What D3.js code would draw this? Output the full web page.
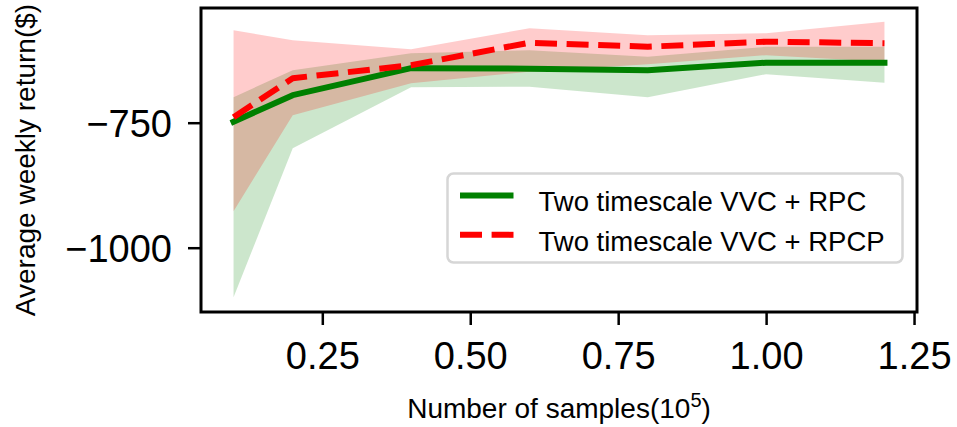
<!DOCTYPE html>
<html>
<head>
<meta charset="utf-8">
<script src="https://cdn.jsdelivr.net/npm/d3@7"></script>
<style>
  body { margin: 0; background: #fff; }
  svg { display: block; font-family: "Liberation Sans", Arial, sans-serif; }
</style>
</head>
<body>
<div id="chart"></div>
<script>
// samples (x 10^5)
var samples = [0.1, 0.2, 0.4, 0.6, 0.8, 1.0, 1.2];

// Two timescale VVC + RPC
var rpcMean = [-748, -695, -641, -642, -645, -630, -630];
var rpcLow  = [-1099, -801, -679, -678, -699, -653, -670];
var rpcHigh = [-699, -645, -611, -605, -618, -598, -598];

// Two timescale VVC + RPCP
var rpcpMean = [-739, -661, -635, -590, -598, -588, -591];
var rpcpLow  = [-927, -735, -671, -648, -633, -615, -628];
var rpcpHigh = [-565, -585, -603, -561, -575, -571, -548];

var xTicks = [0.25, 0.5, 0.75, 1.0, 1.25];
var yTicks = [-1000, -750];
var seriesNames = ['Two timescale VVC + RPC', 'Two timescale VVC + RPCP'];

var width = 957, height = 427;
var plot = {left: 201, right: 917, top: 8, bottom: 312};

var svg = d3.select('#chart').append('svg')
    .attr('width', width)
    .attr('height', height);

var x = d3.scaleLinear().domain([0.045, 1.255]).range([plot.left, plot.right]);
var y = d3.scaleLinear().domain([-1128.6, -520.6]).range([plot.bottom, plot.top]);

var rows = function (mean, low, high) {
    return samples.map(function (s, i) { return {x: s, m: mean[i], lo: low[i], hi: high[i]}; });
};
var series = [
    {name: seriesNames[0], color: 'green', fill: 'rgba(0,128,0,0.2)', dash: null, data: rows(rpcMean, rpcLow, rpcHigh)},
    {name: seriesNames[1], color: 'red', fill: 'rgba(255,0,0,0.2)', dash: '22,9.6', data: rows(rpcpMean, rpcpLow, rpcpHigh)}
];

var area = d3.area()
    .x(function (d) { return x(d.x); })
    .y0(function (d) { return y(d.lo); })
    .y1(function (d) { return y(d.hi); });
var line = d3.line()
    .x(function (d) { return x(d.x); })
    .y(function (d) { return y(d.m); });

// bands first, lines on top
svg.selectAll('path.band')
    .data(series)
    .enter()
    .append('path')
    .classed('band', true)
    .attr('d', function (d) { return area(d.data); })
    .attr('fill', function (d) { return d.fill; });

svg.selectAll('path.line')
    .data(series)
    .enter()
    .append('path')
    .classed('line', true)
    .attr('d', function (d) { return line(d.data); })
    .attr('fill', 'none')
    .attr('stroke', function (d) { return d.color; })
    .attr('stroke-width', 6)
    .attr('stroke-linejoin', 'round')
    .attr('stroke-linecap', function (d) { return d.dash ? 'butt' : 'square'; })
    .attr('stroke-dasharray', function (d) { return d.dash; });

// axes
var xAxis = svg.append('g')
    .attr('transform', 'translate(0,' + plot.bottom + ')')
    .call(d3.axisBottom(x).tickValues(xTicks).tickFormat(d3.format('.2f')).tickSize(13).tickSizeOuter(0));
var yAxis = svg.append('g')
    .attr('transform', 'translate(' + plot.left + ',0)')
    .call(d3.axisLeft(y).tickValues(yTicks).tickFormat(d3.format('d')).tickSize(13).tickSizeOuter(0));

[xAxis, yAxis].forEach(function (g) {
    g.select('.domain').remove();
    g.selectAll('.tick line').attr('stroke', '#000').attr('stroke-width', 2.5);
    g.selectAll('.tick text')
        .attr('fill', '#000')
        .style('font-family', '"Liberation Sans", Arial, sans-serif')
        .style('font-size', '38px');
});
xAxis.selectAll('.tick text').attr('y', 57).attr('dy', null);
yAxis.selectAll('.tick text').attr('x', -29).attr('dy', '0.36em');

// frame
svg.append('rect')
    .attr('x', plot.left)
    .attr('y', plot.top)
    .attr('width', plot.right - plot.left)
    .attr('height', plot.bottom - plot.top)
    .attr('fill', 'none')
    .attr('stroke', '#000')
    .attr('stroke-width', 3);

// axis labels
var xLabel = svg.append('text')
    .attr('x', (plot.left + plot.right) / 2)
    .attr('y', 418)
    .attr('text-anchor', 'middle')
    .style('font-size', '28px');
xLabel.append('tspan').text('Number of samples(10');
xLabel.append('tspan').attr('dy', -11).style('font-size', '20px').text('5');
xLabel.append('tspan').attr('dy', 11).text(')');

svg.append('text')
    .attr('transform', 'translate(35,' + (plot.top + plot.bottom) / 2 + ') rotate(-90)')
    .attr('text-anchor', 'middle')
    .style('font-size', '28px')
    .text('Average weekly return($)');

// legend
var legend = svg.append('g').attr('transform', 'translate(447.5,173.5)');
legend.append('rect')
    .attr('width', 455)
    .attr('height', 89)
    .attr('rx', 6)
    .attr('fill', 'rgba(255,255,255,0.8)')
    .attr('stroke', '#d6d6d6')
    .attr('stroke-width', 2.5);

var item = legend.selectAll('g.item')
    .data(series)
    .enter()
    .append('g')
    .classed('item', true)
    .attr('transform', function (d, i) { return 'translate(0,' + (22 + i * 39.3) + ')'; });
item.append('line')
    .attr('x1', 12.5)
    .attr('x2', 66)
    .attr('stroke', function (d) { return d.color; })
    .attr('stroke-width', 6)
    .attr('stroke-dasharray', function (d) { return d.dash; });
item.append('text')
    .attr('x', 91)
    .attr('y', 7)
    .attr('dy', '0.32em')
    .style('font-size', '27.5px')
    .text(function (d) { return d.name; });
</script>
</body>
</html>
